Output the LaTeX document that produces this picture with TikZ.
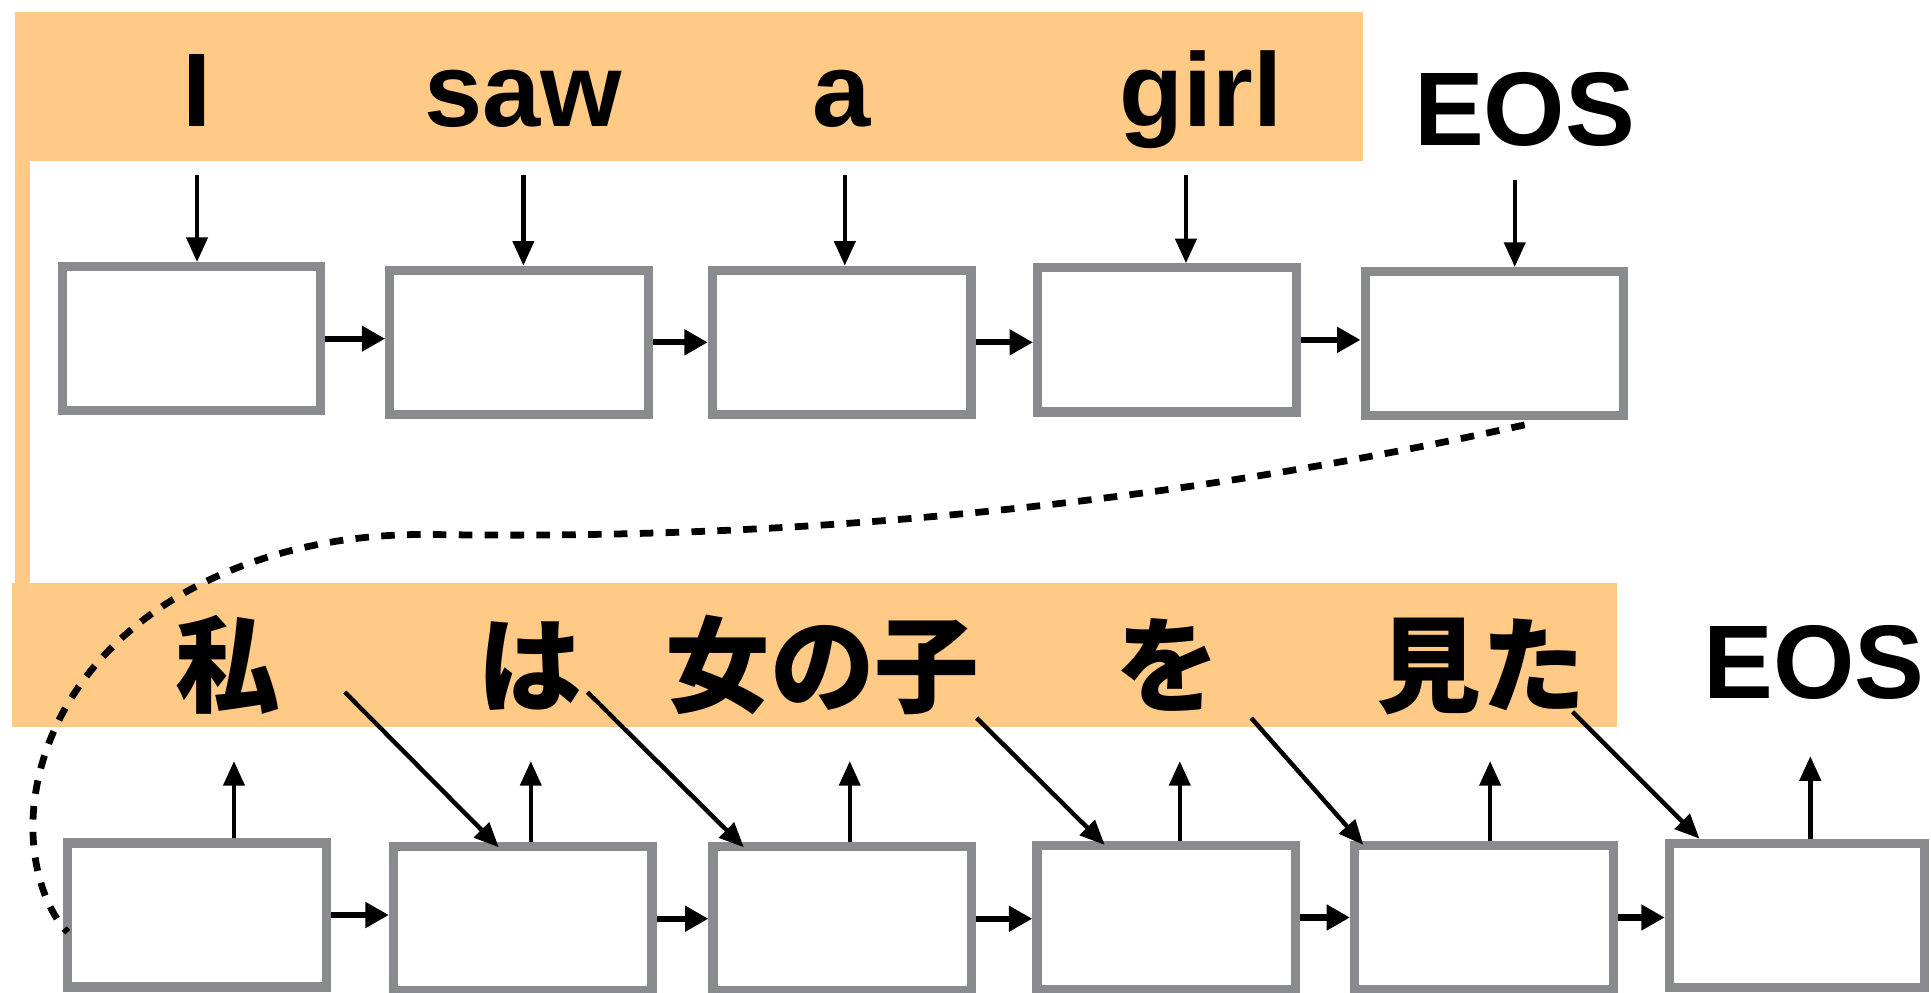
\documentclass[tikz,border=0pt]{standalone}
\usepackage{fontspec}
\setmainfont{Liberation Sans}
\newfontfamily\jp{Noto Sans CJK JP}
\usetikzlibrary{arrows.meta}
\definecolor{band}{HTML}{FFCA85}
\definecolor{boxgray}{HTML}{898B8E}
\begin{document}
\begin{tikzpicture}[x=1pt,y=-1pt,
 cell/.style={draw=boxgray,line width=7.5pt,fill=white,minimum width=210pt,minimum height=117pt,inner sep=0pt},
 word/.style={font=\fontsize{85}{90}\selectfont\bfseries,anchor=base,inner sep=0pt},
 jword/.style={font=\fontsize{85}{90}\selectfont\jp\bfseries,anchor=base,inner sep=0pt},
 thinarr/.style={line width=3.6pt,-{Triangle[length=20pt,width=17pt]}},
 thickarr/.style={line width=5pt,-{Triangle[length=19pt,width=20pt]}},
 dots/.style={line width=5.5pt,dash pattern=on 11pt off 10pt}]
\useasboundingbox (0,0) rectangle (1568,806);
% orange bands
\fill[band] (12,10) rectangle (1107,131);
\fill[band] (12,131) rectangle (24,473);
\fill[band] (10,473) rectangle (1313,590);
% top words
\node[word] (wI) at (160,103) {I};
\node[word] (wsaw) at (425,103) {saw};
\node[word] (wa) at (683,103) {a};
\node[word] (wgirl) at (975,103) {girl};
\node[word] (weos) at (1238,118) {EOS};
% bottom words
\node[jword] (j1) at (185,572) {私};
\node[jword] (j2) at (430,572) {は};
\node[jword] (j3) at (668,572) {女の子};
\node[jword] (j4) at (948,572) {を};
\node[jword] (j5) at (1203,572) {見た};
\node[word] (beos) at (1473,567) {EOS};
% encoder cells
\node[cell] (e1) at (155.5,275) {};
\node[cell] (e2) at (421.5,278) {};
\node[cell] (e3) at (683.5,278) {};
\node[cell] (e4) at (947.5,276) {};
\node[cell] (e5) at (1213.5,279) {};
% decoder cells
\node[cell] (d1) at (160,743) {};
\node[cell] (d2) at (424.5,746) {};
\node[cell] (d3) at (684,746) {};
\node[cell] (d4) at (947,745) {};
\node[cell] (d5) at (1205,745) {};
\node[cell,minimum width=207pt] (d6) at (1459,743.5) {};
% input arrows
\coordinate (t1) at (160,142);
\coordinate (t2) at (425,142);
\coordinate (t3) at (686,142);
\coordinate (t4) at (963,142);
\coordinate (t5) at (1230,146);
\draw[thinarr] (t1) -- (t1 |- e1.north);
\draw[thinarr] (t2) -- (t2 |- e2.north);
\draw[thinarr] (t3) -- (t3 |- e3.north);
\draw[thinarr] (t4) -- (t4 |- e4.north);
\draw[thinarr] (t5) -- (t5 |- e5.north);
% encoder recurrence
\draw[thickarr] (e1.east) -- (e1.east -| e2.west);
\draw[thickarr] (e2.east) -- (e2.east -| e3.west);
\draw[thickarr] (e3.east) -- (e3.east -| e4.west);
\draw[thickarr] (e4.east) -- (e4.east -| e5.west);
% decoder recurrence
\draw[thickarr] (d1.east) -- (d1.east -| d2.west);
\draw[thickarr] (d2.east) -- (d2.east -| d3.west);
\draw[thickarr] (d3.east) -- (d3.east -| d4.west);
\draw[thickarr] (d4.east) -- (d4.east -| d5.west);
\draw[thickarr] (d5.east) -- (d5.east -| d6.west);
% output arrows
\coordinate (u1) at (190,618);
\coordinate (u2) at (431,618);
\coordinate (u3) at (690,618);
\coordinate (u4) at (958,618);
\coordinate (u5) at (1210,618);
\coordinate (u6) at (1470,614);
\draw[thinarr] (u1 |- d1.north) -- (u1);
\draw[thinarr] (u2 |- d2.north) -- (u2);
\draw[thinarr] (u3 |- d3.north) -- (u3);
\draw[thinarr] (u4 |- d4.north) -- (u4);
\draw[thinarr] (u5 |- d5.north) -- (u5);
\draw[thinarr] (u6 |- d6.north) -- (u6);
% feedback arrows
\coordinate (f1) at (280,562);
\coordinate (f2) at (477,562);
\coordinate (f3) at (793,583);
\coordinate (f4) at (1016,583);
\coordinate (f5) at (1277,578);
\coordinate (g2) at (405,688);
\coordinate (g3) at (604,688);
\coordinate (g4) at (897,686);
\coordinate (g5) at (1107,686);
\coordinate (g6) at (1380,681);
\draw[thinarr] (f1) -- (g2);
\draw[thinarr] (f2) -- (g3);
\draw[thinarr] (f3) -- (g4);
\draw[thinarr] (f4) -- (g5);
\draw[thinarr] (f5) -- (g6);
% context link
\coordinate (c0) at (1238,345);
\coordinate (c1) at (350,434);
\coordinate (c2) at (28,650);
\coordinate (c3) at (55,757);
\draw[dots] (c0) .. controls (900,420) and (600,438) .. (c1)
  .. controls (180,432) and (45,520) .. (c2)
  .. controls (22,700) and (38,740) .. (c3);
\end{tikzpicture}
\end{document}
